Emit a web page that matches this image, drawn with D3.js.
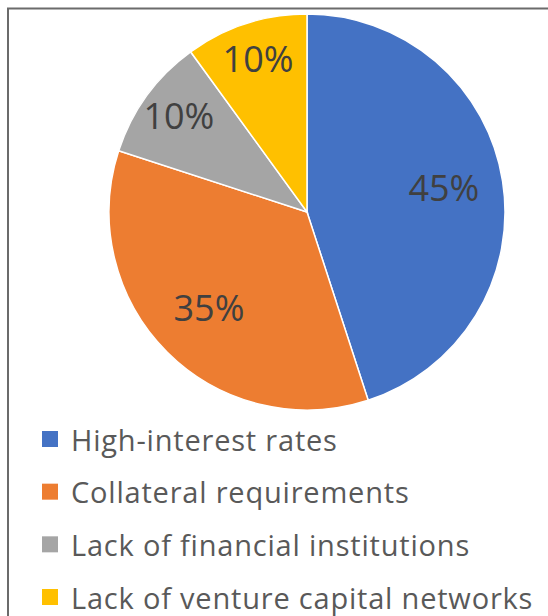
<!DOCTYPE html>
<html>
<head>
<meta charset="utf-8">
<script src="https://cdn.jsdelivr.net/npm/d3@7"></script>
<style>
  html, body { margin: 0; padding: 0; background: #fff; }
  svg { display: block; }
</style>
</head>
<body>
<svg id="chart" width="548" height="616"></svg>
<script>
// Obstacles to accessing finance — share of respondents
const categories = ["High-interest rates", "Collateral requirements", "Lack of financial institutions", "Lack of venture capital networks"];
const shares = [45, 35, 10, 10];
const colors = ["#4472C4", "#ED7D31", "#A5A5A5", "#FFC000"];

const W = 548, H = 616;
const svg = d3.select("#chart");
const font = "'Open Sans', 'Liberation Sans', sans-serif";

// frame around the chart area
svg.append("rect")
  .attr("x", 8).attr("y", 8.5)
  .attr("width", W + 10).attr("height", H + 10)
  .attr("fill", "#fff")
  .attr("stroke", "#6b6b6b")
  .attr("stroke-width", 2);

const cx = 307, cy = 212, R = 198;
const data = categories.map((c, i) => ({ name: c, value: shares[i], color: colors[i] }));

const pie = d3.pie().value(d => d.value).sort(null);
const arcs = pie(data);
const arc = d3.arc().innerRadius(0).outerRadius(R);
const total = d3.sum(shares);

const g = svg.append("g").attr("transform", `translate(${cx},${cy})`);

g.selectAll("path.slice")
  .data(arcs)
  .enter().append("path")
  .attr("class", "slice")
  .attr("d", arc)
  .attr("fill", d => d.data.color)
  .attr("stroke", "#fff")
  .attr("stroke-width", 1.5);

// percentage labels; thin slices push their label further out
g.selectAll("text.pct")
  .data(arcs)
  .enter().append("text")
  .attr("class", "pct")
  .attr("transform", d => {
    const rr = d.data.value / total < 0.15 ? R * 0.8 : R * 0.7;
    const la = d3.arc().innerRadius(rr).outerRadius(rr);
    const [x, y] = la.centroid(d);
    return `translate(${x},${y - 3})`;
  })
  .attr("text-anchor", "middle")
  .attr("dominant-baseline", "central")
  .attr("font-family", font)
  .attr("font-size", 36)
  .attr("fill", "#404040")
  .text(d => d.data.value + "%");

// legend
const legY = d3.scalePoint().domain(categories).range([439, 597]);
const leg = svg.append("g");
const rows = leg.selectAll("g.row")
  .data(data)
  .enter().append("g")
  .attr("class", "row")
  .attr("transform", d => `translate(42,${legY(d.name)})`);

rows.append("rect")
  .attr("x", 0).attr("y", -8)
  .attr("width", 16).attr("height", 16)
  .attr("fill", d => d.color);

rows.append("text")
  .attr("x", 29)
  .attr("y", 0)
  .attr("dominant-baseline", "central")
  .attr("font-family", font)
  .attr("font-size", 29)
  .attr("letter-spacing", 0.8)
  .attr("fill", "#595959")
  .text(d => d.name);
</script>
</body>
</html>
